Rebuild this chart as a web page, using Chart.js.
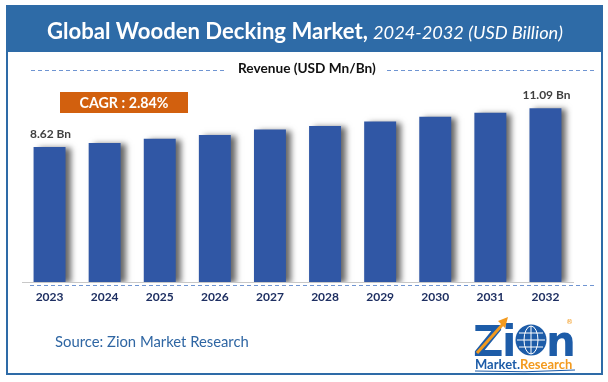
<!DOCTYPE html>
<html>
<head>
<meta charset="utf-8">
<script src="https://cdn.jsdelivr.net/npm/chart.js@4.4.1/dist/chart.umd.min.js"></script>
<style>
html,body{margin:0;padding:0;background:#fff;}
#wrap{position:relative;width:608px;height:382px;}
</style>
</head>
<body>
<div id="wrap"><canvas id="c" width="608" height="382"></canvas></div>
<script>
const categories = ["2023","2024","2025","2026","2027","2028","2029","2030","2031","2032"];
const revenue = [8.62, 8.88, 9.15, 9.39, 9.73, 9.96, 10.24, 10.54, 10.81, 11.09];
const valueLabels = ["8.62 Bn", "", "", "", "", "", "", "", "", "11.09 Bn"];
const titleMain = "Global Wooden Decking Market,";
const titleSub = "2024-2032 (USD Billion)";
const legendText = "Revenue (USD Mn/Bn)";
const cagrText = "CAGR : 2.84%";
const sourceText = "Source: Zion Market Research";

const FAM = "Lato, 'Open Sans', sans-serif";
const BLUE = "#2E6BA7";

function fit(ctx, text, weight, style, target) {
  ctx.font = `${style} ${weight} 20px ${FAM}`;
  const w = ctx.measureText(text).width;
  return 20 * target / w;
}

const decor = {
  id: 'decor',
  beforeDraw(chart) {
    const ctx = chart.ctx;
    ctx.save();
    ctx.fillStyle = '#fff';
    ctx.fillRect(0, 0, 608, 382);
    ctx.strokeStyle = BLUE;
    ctx.lineWidth = 2;
    ctx.strokeRect(7, 6, 595, 368);
    ctx.fillStyle = BLUE;
    ctx.fillRect(7, 6, 595, 46);
    const s1 = fit(ctx, titleMain, 'bold', 'normal', 321);
    const s2 = fit(ctx, titleSub, 'normal', 'italic', 190);
    ctx.fillStyle = '#fff';
    ctx.textBaseline = 'middle';
    ctx.textAlign = 'left';
    ctx.font = `normal bold ${s1}px ${FAM}`;
    ctx.fillText(titleMain, 47, 32);
    ctx.font = `italic normal ${s2}px ${FAM}`;
    ctx.fillText(titleSub, 373, 33);
    const s3 = fit(ctx, legendText, 'bold', 'normal', 138);
    ctx.font = `normal bold ${s3}px ${FAM}`;
    ctx.fillStyle = '#111';
    ctx.fillText(legendText, 238, 69);
    ctx.strokeStyle = '#6F95D2';
    ctx.lineWidth = 1;
    ctx.setLineDash([4, 3]);
    ctx.beginPath();
    ctx.moveTo(31, 70.5); ctx.lineTo(226, 70.5);
    ctx.moveTo(387, 70.5); ctx.lineTo(594, 70.5);
    ctx.stroke();
    ctx.setLineDash([]);
    ctx.fillStyle = '#D2600E';
    ctx.fillRect(60, 92, 128, 21);
    const s4 = fit(ctx, cagrText, 'bold', 'normal', 89);
    ctx.font = `normal bold ${s4}px ${FAM}`;
    ctx.fillStyle = '#fff';
    ctx.textAlign = 'center';
    ctx.fillText(cagrText, 124, 103);
    const s5 = fit(ctx, sourceText, 'normal', 'normal', 194);
    ctx.font = `normal normal ${s5}px ${FAM}`;
    ctx.fillStyle = '#2F66A3';
    ctx.textAlign = 'left';
    ctx.fillText(sourceText, 55, 342);
    drawLogo(ctx);
    ctx.restore();
  },
  beforeDatasetsDraw(chart) {
    const ctx = chart.ctx;
    ctx.save();
    ctx.shadowColor = 'rgba(0,0,0,0.6)';
    ctx.shadowOffsetX = 5;
    ctx.shadowOffsetY = 1;
    ctx.shadowBlur = 6;
  },
  afterDatasetsDraw(chart) {
    const ctx = chart.ctx;
    ctx.restore();
    const meta = chart.getDatasetMeta(0);
    ctx.save();
    ctx.fillStyle = '#404040';
    ctx.textAlign = 'center';
    ctx.textBaseline = 'middle';
    meta.data.forEach((bar, i) => {
      const t = valueLabels[i];
      if (!t) return;
      const s = fit(ctx, t, 'bold', 'normal', t.length === 7 ? 41 : 48);
      ctx.font = `normal bold ${s}px ${FAM}`;
      ctx.fillText(t, bar.x + 1, bar.y - 13);
    });
    ctx.restore();
  },
  afterDraw(chart) {
    const ctx = chart.ctx;
    ctx.save();
    ctx.strokeStyle = '#6F95D2';
    ctx.lineWidth = 1;
    ctx.setLineDash([4, 3]);
    ctx.beginPath();
    ctx.moveTo(30, 285.5); ctx.lineTo(596, 285.5);
    ctx.stroke();
    ctx.restore();
  }
};

function drawLogo(ctx) {
  ctx.save();
  const blue = '#1D5CA8', orange = '#F39A1E';
  ctx.textBaseline = 'alphabetic';
  ctx.textAlign = 'left';
  ctx.fillStyle = blue;
  ctx.font = `bold 42px 'DejaVu Sans', sans-serif`;
  ctx.fillText('Z', 473, 356);
  ctx.fillText('i', 502, 356);
  ctx.fillText('n', 546, 356);
  ctx.beginPath();
  ctx.arc(531, 340, 15.5, 0, Math.PI * 2);
  ctx.fill();
  ctx.strokeStyle = '#fff';
  ctx.lineWidth = 1;
  ctx.beginPath();
  ctx.ellipse(531, 340, 7, 14, 0, 0, Math.PI * 2);
  ctx.moveTo(517, 340); ctx.lineTo(545, 340);
  ctx.moveTo(519, 333); ctx.lineTo(543, 333);
  ctx.moveTo(519, 347); ctx.lineTo(543, 347);
  ctx.moveTo(531, 326); ctx.lineTo(531, 354);
  ctx.stroke();
  ctx.strokeStyle = orange;
  ctx.lineWidth = 3;
  ctx.beginPath();
  ctx.moveTo(477, 353); ctx.lineTo(503, 324);
  ctx.stroke();
  ctx.fillStyle = orange;
  ctx.beginPath();
  ctx.moveTo(508, 317); ctx.lineTo(498, 321); ctx.lineTo(505, 328); ctx.closePath();
  ctx.fill();
  ctx.font = `7px 'DejaVu Sans', sans-serif`;
  ctx.fillText('®', 566, 324);
  ctx.font = `bold 13px ${FAM}`;
  ctx.fillStyle = blue;
  ctx.fillText('Market.', 475, 369);
  const w = ctx.measureText('Market.').width;
  ctx.fillStyle = orange;
  ctx.fillText('Research', 475 + w, 369);
  ctx.strokeStyle = blue;
  ctx.lineWidth = 1;
  ctx.beginPath();
  ctx.moveTo(475, 371); ctx.quadraticCurveTo(525, 373, 575, 370);
  ctx.stroke();
  ctx.restore();
}

new Chart(document.getElementById('c'), {
  type: 'bar',
  data: {
    labels: categories,
    datasets: [{
      data: revenue,
      backgroundColor: '#3057A5',
      borderWidth: 0,
      barPercentage: 0.58,
      categoryPercentage: 1.0
    }]
  },
  options: {
    responsive: false,
    animation: false,
    devicePixelRatio: 1,
    layout: { padding: { left: 22, right: 35, top: 94, bottom: 80 } },
    plugins: { legend: { display: false }, tooltip: { enabled: false }, title: { display: false } },
    scales: {
      y: { display: false, min: 0, max: 12 },
      x: {
        grid: { display: false, drawTicks: false },
        border: { display: true, color: '#C8C8C8', width: 1 },
        ticks: { color: '#1E2F62', font: { family: FAM, weight: 'bold', size: 12 }, padding: 8 },
        afterFit(scale) { scale.height = 20; }
      }
    }
  },
  plugins: [decor]
});
</script>
</body>
</html>
